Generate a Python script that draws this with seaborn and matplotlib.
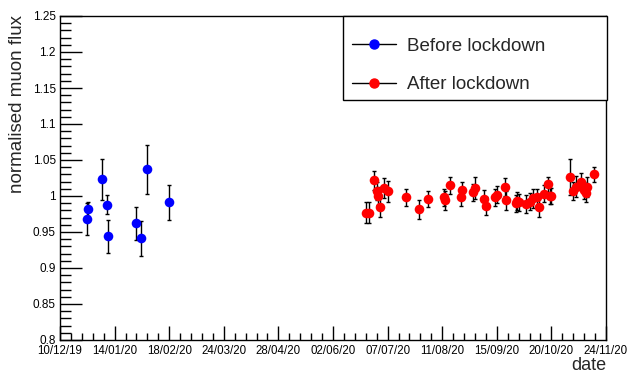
import matplotlib
matplotlib.use("Agg")
import matplotlib.pyplot as plt
import matplotlib.dates as mdates
from matplotlib.lines import Line2D
from matplotlib.patches import Rectangle
import numpy as np
import pandas as pd
import seaborn as sns

# values
before_dates = ["2019-12-27", "2019-12-28", "2020-01-06", "2020-01-09", "2020-01-10",
                "2020-01-28", "2020-01-31", "2020-02-04", "2020-02-18"]
before_flux = [0.968, 0.982, 1.023, 0.988, 0.944, 0.962, 0.941, 1.037, 0.991]
before_err = [0.022, 0.010, 0.028, 0.013, 0.023, 0.023, 0.024, 0.034, 0.024]

after_dates = ["2020-06-23", "2020-06-25", "2020-06-28", "2020-06-30", "2020-07-01",
               "2020-07-02", "2020-07-05", "2020-07-07", "2020-07-19", "2020-07-27",
               "2020-08-02", "2020-08-12", "2020-08-13", "2020-08-16", "2020-08-23",
               "2020-08-24", "2020-08-31", "2020-09-01", "2020-09-07", "2020-09-08",
               "2020-09-14", "2020-09-15", "2020-09-20", "2020-09-21", "2020-09-27",
               "2020-09-28", "2020-09-29", "2020-10-04", "2020-10-06", "2020-10-08",
               "2020-10-11", "2020-10-12", "2020-10-15", "2020-10-18", "2020-10-19",
               "2020-10-20", "2020-11-01", "2020-11-03", "2020-11-05", "2020-11-08",
               "2020-11-10", "2020-11-11", "2020-11-12", "2020-11-16"]
after_flux = [0.977, 0.977, 1.022, 1.007, 1.000, 0.985, 1.0115, 1.0065, 0.998, 0.9815,
              0.996, 0.998, 0.994, 1.015, 0.998, 1.008, 1.005, 1.0115, 0.996, 0.986,
              0.998, 1.002, 1.0125, 0.994, 0.990, 0.993, 0.991, 0.989, 0.992, 0.997,
              0.998, 0.985, 1.003, 1.016, 1.000, 0.9995, 1.026, 1.007, 1.013, 1.020,
              1.008, 1.004, 1.0125, 1.030]
after_err = [0.014, 0.014, 0.013, 0.012, 0.012, 0.014, 0.014, 0.015, 0.012, 0.013,
             0.011, 0.012, 0.013, 0.012, 0.012, 0.012, 0.012, 0.015, 0.012, 0.013,
             0.012, 0.012, 0.012, 0.013, 0.012, 0.012, 0.012, 0.013, 0.012, 0.013,
             0.012, 0.014, 0.012, 0.010, 0.011, 0.011, 0.025, 0.012, 0.015, 0.012,
             0.012, 0.012, 0.014, 0.010]

major_ticks = pd.date_range("2019-12-10", "2020-11-24", freq="35D")
minor_ticks = pd.date_range("2019-12-10", "2020-11-24", freq="7D")

before = pd.DataFrame({"date": pd.to_datetime(before_dates), "flux": before_flux, "err": before_err})
after = pd.DataFrame({"date": pd.to_datetime(after_dates), "flux": after_flux, "err": after_err})

sns.set_style("white")
plt.rcParams["font.family"] = ["Liberation Sans", "DejaVu Sans"]

fig = plt.figure(figsize=(6.27, 3.72), dpi=100)
ax = fig.add_axes([60 / 627, 1 - 340 / 372, 546 / 627, 324 / 372])

for df, col in [(before, "#0000ff"), (after, "#ff0000")]:
    ax.errorbar(df["date"], df["flux"], yerr=df["err"], fmt="none",
                ecolor="black", elinewidth=1, capsize=1.5, capthick=1, zorder=2)
    sns.scatterplot(data=df, x="date", y="flux", ax=ax, color=col, s=48,
                    edgecolor=col, linewidth=0, zorder=3, legend=False)

ax.set_xlim(pd.Timestamp("2019-12-10"), pd.Timestamp("2020-11-24"))
ax.set_ylim(0.8, 1.25)

ax.xaxis.set_major_locator(matplotlib.ticker.FixedLocator(mdates.date2num(major_ticks)))
ax.xaxis.set_minor_locator(matplotlib.ticker.FixedLocator(mdates.date2num(minor_ticks)))
ax.xaxis.set_major_formatter(mdates.DateFormatter("%d/%m/%y"))
ax.yaxis.set_major_locator(matplotlib.ticker.MultipleLocator(0.05))
ax.yaxis.set_minor_locator(matplotlib.ticker.MultipleLocator(0.01))
ax.yaxis.set_major_formatter(matplotlib.ticker.FuncFormatter(lambda v, p: f"{v:.2f}".rstrip("0").rstrip(".")))

ax.tick_params(axis="both", which="both", direction="in", labelsize=8.5, colors="black",
               top=False, right=False, bottom=True, left=True)
ax.tick_params(axis="x", labelsize=8.3)
ax.tick_params(axis="y", which="major", length=16, width=1, pad=3)
ax.tick_params(axis="y", which="minor", length=8, width=1)
ax.tick_params(axis="x", which="major", length=10, width=1, pad=3.5)
ax.tick_params(axis="x", which="minor", length=5, width=1)
for s in ax.spines.values():
    s.set_color("black")
    s.set_linewidth(1)

ax.set_xlabel("")
ax.set_ylabel("")
fig.text(606 / 627, 1.5 / 372, "date", ha="right", va="baseline", fontsize=13)
fig.text(18 / 627, 1 - 15 / 372, "normalised muon flux", rotation=90, ha="center", va="top", fontsize=13.5)

# legend box (fixed size, like the reference)
ax.add_patch(Rectangle((343 / 627, 1 - 100 / 372), 264 / 627, 84 / 372,
                       transform=fig.transFigure, fill=True, facecolor="white",
                       edgecolor="black", lw=1, zorder=5, clip_on=False))
handles = [
    Line2D([], [], color="black", lw=1, marker="o", markersize=6.5,
           markerfacecolor="#0000ff", markeredgecolor="#0000ff"),
    Line2D([], [], color="black", lw=1, marker="o", markersize=6.5,
           markerfacecolor="#ff0000", markeredgecolor="#ff0000"),
]
leg = ax.legend(handles, ["Before lockdown", "After lockdown"], loc="center left",
                bbox_to_anchor=(352 / 627, 1 - 65.5 / 372), bbox_transform=fig.transFigure,
                fontsize=13.5, frameon=False, borderaxespad=0, borderpad=0,
                handlelength=2.35, labelspacing=1.15, handletextpad=0.6)
leg.set_zorder(6)

fig.savefig("out.png", dpi=100)
